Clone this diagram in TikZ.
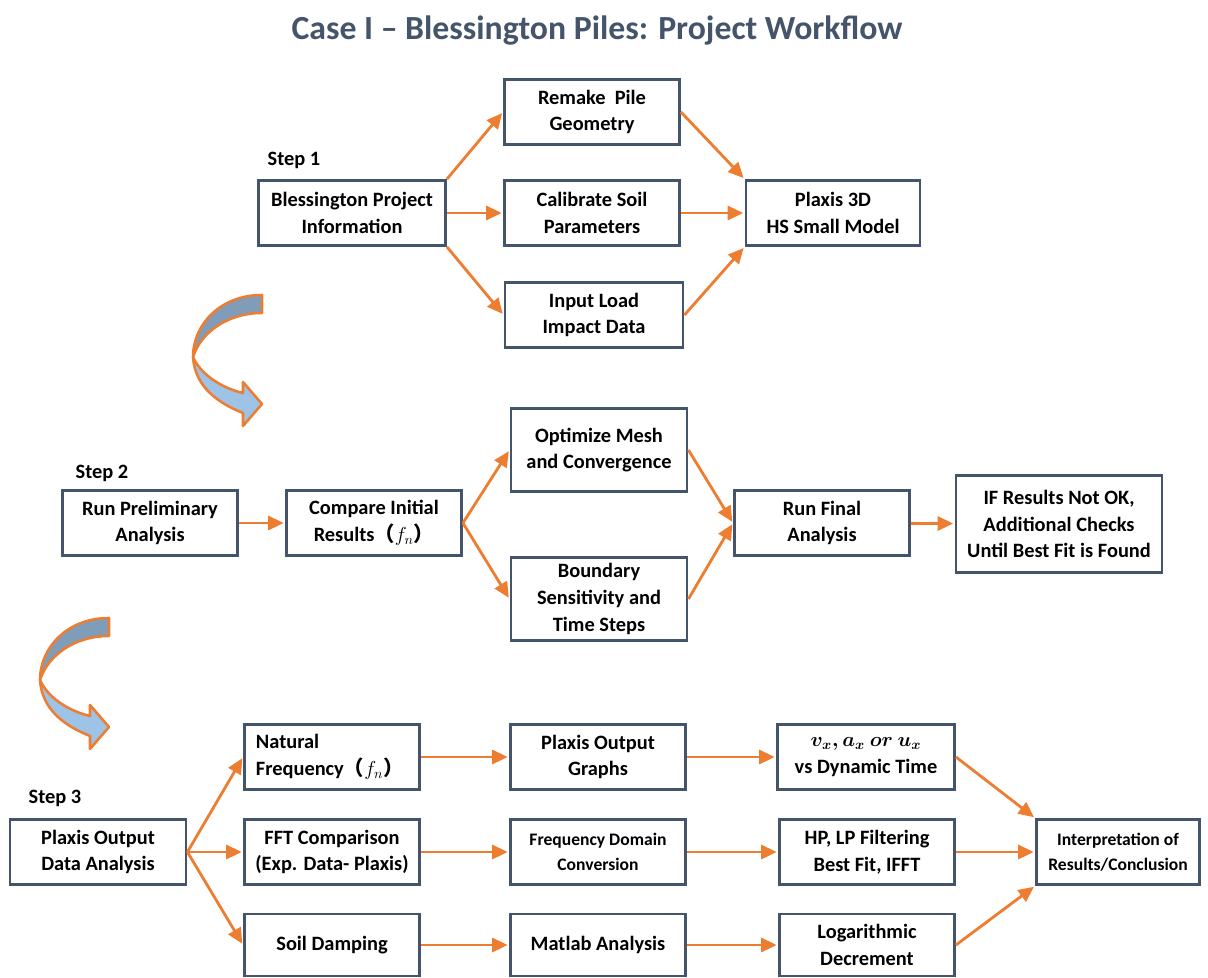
\documentclass[tikz,border=0pt]{standalone}
\usepackage{fontspec}
\setmainfont{Carlito}
\newfontfamily\cjk{Noto Sans CJK SC}
\usepackage{amsmath}
\usetikzlibrary{arrows.meta}
\definecolor{boxline}{HTML}{44546A}
\definecolor{flow}{HTML}{ED7D31}
\definecolor{bandtop}{HTML}{7F9CB8}
\definecolor{bandlow}{HTML}{9DC3E6}

\begin{document}
\begin{tikzpicture}[x=0.025cm,y=-0.025cm,thick,>={Triangle[length=11pt,width=10pt]},shorten >=1pt,
    box/.style={draw=boxline,line width=2pt,minimum width=4.375cm,minimum height=1.625cm,align=center,font=\bfseries\fontsize{14.5}{19}\selectfont},
    small/.style={font=\bfseries\fontsize{12.5}{17.5}\selectfont},
    steplabel/.style={font=\bfseries\fontsize{14.5}{17}\selectfont},
    flowline/.style={color=flow,line width=2pt,every edge/.append style={->}},
    turnarrow/.pic={
      \filldraw[draw=flow,line width=1.8pt,fill=bandtop,line join=round] (66,-62) .. controls (24,-62) and (-3,-32) .. (-3,0) .. controls (5,-25) and (32,-44) .. (66,-44) -- cycle;
      \filldraw[draw=flow,line width=1.8pt,fill=bandlow,line join=round] (-3,0) .. controls (-1,30) and (22,46) .. (47,56) -- (47,69) -- (66,47) -- (47,25) -- (47,36) .. controls (26,31) and (5,18) .. (-3,0) -- cycle;
    }]
  \useasboundingbox (0,0) rectangle (1208,978);

  \node[font=\bfseries\fontsize{24}{28}\selectfont,text=boxline] (title) at (597,31) {Case I – Blessington Piles: Project Workflow};

  % step 1
  \node[steplabel] (step1) at (294,160) {Step 1};
  \node[box,minimum width=4.675cm] (info) at (352,213) {Blessington Project\\Information};
  \node[box] (remake) at (592,112) {Remake~ Pile\\Geometry};
  \node[box] (calib) at (592,213) {Calibrate Soil\\Parameters};
  \node[box,minimum width=4.45cm] (load) at (594,315) {Input Load\\Impact Data};
  \node[box,minimum width=4.35cm] (plaxis) at (833,213) {Plaxis 3D\\HS Small Model};

  % step 2
  \node[steplabel] (step2) at (102,473) {Step 2};
  \node[box] (prelim) at (150,523) {Run Preliminary\\Analysis};
  \node[box] (compare) at (374,523) {Compare Initial\\Results{\cjk （}$f_n${\cjk ）}};
  \node[box,minimum width=4.4cm,minimum height=2.075cm] (mesh) at (599,450) {Optimize Mesh\\and Convergence};
  \node[box,minimum width=4.4cm,minimum height=2.075cm] (bound) at (599,599) {Boundary\\Sensitivity and\\Time Steps};
  \node[box] (final) at (822,523) {Run Final\\Analysis};
  \node[box,minimum width=5.15cm,minimum height=2.425cm] (check) at (1059,524) {IF Results Not OK,\\Additional Checks\\Until Best Fit is Found};

  % step 3
  \node[steplabel] (step3) at (55,798) {Step 3};
  \node[box,minimum width=4.4cm] (data) at (98,852) {Plaxis Output\\Data Analysis};
  \node[box,align=left,text width=3.8cm] (natfreq) at (332,757) {Natural\\Frequency{\cjk （}$f_n${\cjk ）}};
  \node[box] (fft) at (332,852) {FFT Comparison\\(Exp. Data- Plaxis)};
  \node[box,minimum height=1.55cm] (damp) at (332,945) {Soil Damping};
  \node[box] (graphs) at (598,757) {Plaxis Output\\Graphs};
  \node[box,small] (domain) at (598,852) {Frequency Domain\\Conversion};
  \node[box,minimum height=1.55cm] (matlab) at (598,945) {Matlab Analysis};
  \node[box,minimum width=4.425cm] (motion) at (866,757) {{\boldmath$v_x, a_x\ or\ u_x$}\\vs Dynamic Time};
  \node[box] (filter) at (867,852) {HP, LP Filtering\\Best Fit, IFFT};
  \node[box,minimum height=1.55cm] (logdec) at (867,945) {Logarithmic\\Decrement};
  \node[box,small,minimum width=4.075cm] (interp) at (1118,852) {Interpretation of\\Results/Conclusion};

  % turning arrows between steps
  \pic at (196,357) {turnarrow};
  \pic at (43,680) {turnarrow};

  \path[flowline]
    (info.north east) edge (remake.west)
    (info.east)       edge (calib.west)
    (info.south east) edge (load.west)
    (remake.east)     edge (plaxis.north west)
    (calib.east)      edge (plaxis.west)
    (load.east)       edge (plaxis.south west)
    (prelim)          edge (compare)
    (compare.east)    edge (mesh.west)
                      edge (bound.west)
    (mesh.east)       edge (final.west)
    (bound.east)      edge (final.west)
    (final)           edge (check)
    (data.east)       edge (natfreq.west)
                      edge (fft.west)
                      edge (damp.west)
    (natfreq)         edge (graphs)
    (fft)             edge (domain)
    (damp)            edge (matlab)
    (graphs)          edge (motion)
    (domain)          edge (filter)
    (matlab)          edge (logdec)
    (motion.east)     edge (interp.north west)
    (filter)          edge (interp)
    (logdec.east)     edge (interp.south west)
    ;
\end{tikzpicture}
\end{document}
